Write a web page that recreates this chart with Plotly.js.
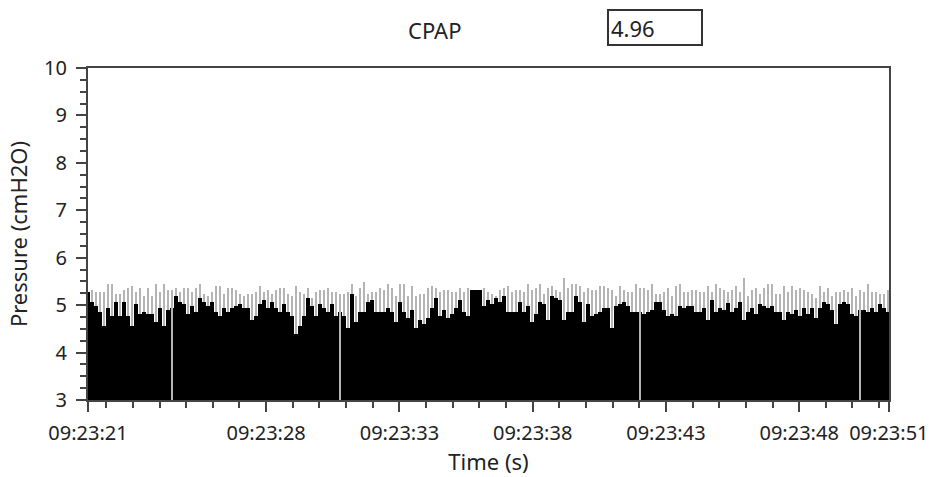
<!DOCTYPE html>
<html>
<head>
<meta charset="utf-8">
<script src="https://cdn.plot.ly/plotly-3.0.1.min.js"></script>
<style>html,body{margin:0;padding:0;background:#fff;}#chart{width:932px;height:477px;}</style>
</head>
<body>
<div id="chart"></div>
<script>
// ---- data ----
const sampleStart = 21.316;   // seconds after 09:23:00 of the first sample
const sampleStep = 0.15;      // seconds between samples

// upper value of each oscillation (cmH2O)
const peakValues = [
  5.28,
  5.32,5.28,5.28,5.28,5.45,5.45,5.23,5.23,5.32,5.36, 5.40,5.28,5.36,5.19,5.36,5.19,5.45,5.28,5.45,5.32,
  5.32,5.36,5.28,5.36,5.36,5.28,5.36,5.45,5.23,5.19, 5.28,5.40,5.40,5.23,5.36,5.36,5.32,5.23,5.19,
  5.23,5.23,5.28,5.40,5.28,5.32,5.23,5.32,5.36,5.36, 5.23,5.19,5.40,5.28,5.23,5.36,5.15,5.28,5.32,5.32,
  5.36,5.28,5.28,5.23,5.23,5.28,5.45,5.19,5.36,5.49, 5.23,5.28,5.28,5.36,5.32,5.45,5.36,5.19,5.45,5.45,
  5.19,5.40,5.19,5.23,5.23,5.36,5.40,5.36,5.28,5.32, 5.32,5.28,5.28,5.36,5.28,5.36,5.32,5.32,5.32,5.36,
  5.28,5.23,5.19,5.32,5.36,5.40,5.28,5.32,5.32,5.28, 5.45,5.32,5.36,5.45,5.23,5.36,5.40,5.32,5.28,5.57,
  5.36,5.45,5.45,5.40,5.28,5.36,5.32,5.32,5.40,5.40, 5.36,5.32,5.19,5.40,5.32,5.28,5.28,5.45,5.36,5.36,
  5.32,5.45,5.23,5.23,5.28,5.36,5.19,5.40,5.45,5.28, 5.28,5.32,5.32,5.28,5.28,5.40,5.28,5.45,5.36,5.32,
  5.28,
  5.32,5.40,5.28,5.57,5.19,5.32,5.36,5.23,5.36,5.45, 5.45,5.23,5.23,5.40,5.28,5.40,5.32,5.36,5.32,5.28,
  5.23,5.15,5.40,5.28,5.36,5.19,5.28,5.28,5.32,5.28, 5.36,5.19,5.32,5.28,5.45,5.28,5.28,5.23,5.23,5.32
];

// lower value of each oscillation (cmH2O)
const troughValues = [
  5.28,
  5.07,4.99,4.85,4.56,4.94,4.77,5.07,4.77,5.07,4.77, 4.56,5.02,4.81,4.85,4.81,4.81,4.64,4.94,4.56,4.90,
  4.94,5.19,5.07,5.02,4.81,4.98,4.85,5.15,5.07,4.98, 5.07,4.85,4.77,4.94,4.85,4.94,4.98,5.02,4.94,
  4.94,4.68,4.77,5.02,5.11,4.94,5.07,4.94,4.85,5.02, 4.85,4.77,4.39,4.56,4.77,5.15,4.98,4.77,5.02,4.94,
  4.85,5.02,4.77,4.85,4.77,4.52,5.23,4.64,4.85,4.85, 5.07,5.11,4.85,4.85,4.85,4.94,4.85,4.64,5.07,4.85,
  4.73,4.90,4.52,4.68,4.60,4.73,4.94,5.15,4.77,4.90, 4.73,4.81,4.94,5.11,4.85,4.77,5.32,5.32,5.32,4.98,
  5.11,5.02,5.15,5.07,5.19,4.85,4.85,4.85,5.07,4.85, 4.98,4.64,4.81,5.07,5.02,4.68,5.19,5.15,5.11,4.68,
  4.85,4.85,5.19,5.07,4.64,5.02,4.77,4.81,4.85,4.94, 4.94,4.52,4.98,5.02,5.07,4.98,4.85,4.85,4.85,4.81,
  4.85,4.90,5.07,5.07,4.90,4.77,4.81,4.77,4.98,4.94, 4.98,4.98,4.85,4.85,4.94,4.68,5.11,4.85,4.94,4.90,
  5.05,
  4.85,4.94,5.07,4.68,4.85,4.94,4.81,5.02,4.98,4.94, 4.98,4.85,4.85,4.68,4.85,4.81,4.90,4.77,4.94,4.81,
  4.94,4.73,4.94,5.07,5.02,4.90,4.60,5.02,5.07,5.02, 4.81,4.77,4.90,4.90,4.85,4.94,4.85,5.02,4.94,4.85
];

// samples where the pressure dropped to the bottom of the scale
const dropSamples = [21, 63, 138, 193];
const dropValue = 3;

const cpapLabel = 'CPAP';
const cpapValue = '4.96';

const xTickVals = [21.316, 28, 33, 38, 43, 48, 51.365];
const xTickText = ['09:23:21', '09:23:28', '09:23:33', '09:23:38', '09:23:43', '09:23:48', '09:23:51'];
const xMinorTicks = [22,23,24,25,26,27,29,30,31,32,34,35,36,37,39,40,41,42,44,45,46,47,49,50,51];
const xRange = [21.316, 51.37];
const yRange = [3, 10];

// ---- build traces ----
const times = peakValues.map((_, i) => sampleStart + i * sampleStep);
const FONT = 'Noto Sans, Open Sans, sans-serif';
const FRAME = '#444444';
const GREY = '#b4b4b4';

const fillTrace = {
  type: 'bar', x: times,
  base: yRange[0],
  y: troughValues.map(v => v - yRange[0]),
  width: sampleStep * 1.02,
  marker: {color: '#000000', line: {width: 0}},
  hoverinfo: 'skip'
};
const swingTrace = {
  type: 'bar', x: times,
  base: troughValues,
  y: peakValues.map((v, i) => v - troughValues[i]),
  width: sampleStep * 0.5,
  marker: {color: GREY, line: {width: 0}},
  hoverinfo: 'skip'
};
const dropTrace = {
  type: 'bar',
  x: dropSamples.map(i => times[i]),
  base: dropValue,
  y: dropSamples.map(i => troughValues[i] - dropValue),
  width: sampleStep * 0.5,
  marker: {color: GREY, line: {width: 0}},
  hoverinfo: 'skip'
};

const layout = {
  width: 932, height: 477,
  margin: {l: 88, r: 43, t: 68, b: 77},
  paper_bgcolor: '#ffffff', plot_bgcolor: '#ffffff',
  showlegend: false,
  barmode: 'overlay', bargap: 0,
  hovermode: false,
  font: {family: FONT, color: '#222222'},
  xaxis: {
    range: xRange, showgrid: false, zeroline: false,
    showline: true, linecolor: FRAME, linewidth: 2, mirror: true,
    ticks: 'outside', ticklen: 10, tickwidth: 2, tickcolor: FRAME,
    tickmode: 'array', tickvals: xTickVals, ticktext: xTickText,
    tickfont: {family: FONT, size: 20, color: '#222222'},
    ticklabelstandoff: 4,
    minor: {tickmode: 'array', tickvals: xMinorTicks, ticks: 'outside', ticklen: 6, tickwidth: 2, tickcolor: FRAME},
    title: {text: 'Time (s)', font: {family: FONT, size: 22, color: '#222222'}, standoff: 10}
  },
  yaxis: {
    range: yRange, showgrid: false, zeroline: false,
    showline: true, linecolor: FRAME, linewidth: 2, mirror: true,
    ticks: 'outside', ticklen: 10, tickwidth: 2, tickcolor: FRAME,
    tickmode: 'linear', tick0: 3, dtick: 1,
    tickfont: {family: FONT, size: 20, color: '#222222'},
    ticklabelstandoff: 5,
    minor: {dtick: 0.25, tick0: 3, ticks: 'outside', ticklen: 6, tickwidth: 2, tickcolor: FRAME},
    title: {text: 'Pressure (cmH2O)', font: {family: FONT, size: 22, color: '#222222'}, standoff: 10}
  },
  annotations: [
    {xref: 'paper', yref: 'paper', x: (434.5 - 88) / 801, y: (400 - 29.7) / 332,
     xanchor: 'center', yanchor: 'middle', showarrow: false,
     text: cpapLabel, font: {family: FONT, size: 22, color: '#222222'}},
    {xref: 'paper', yref: 'paper', x: (607 - 88) / 801, y: (400 - 9) / 332,
     xanchor: 'left', yanchor: 'top', showarrow: false,
     text: cpapValue, align: 'left', width: 88, height: 29,
     bordercolor: '#333333', borderwidth: 2, borderpad: 2, bgcolor: '#ffffff',
     font: {family: FONT, size: 22, color: '#222222'}}
  ]
};

Plotly.newPlot('chart', [fillTrace, swingTrace, dropTrace], layout, {staticPlot: true, displayModeBar: false});
</script>
</body>
</html>
